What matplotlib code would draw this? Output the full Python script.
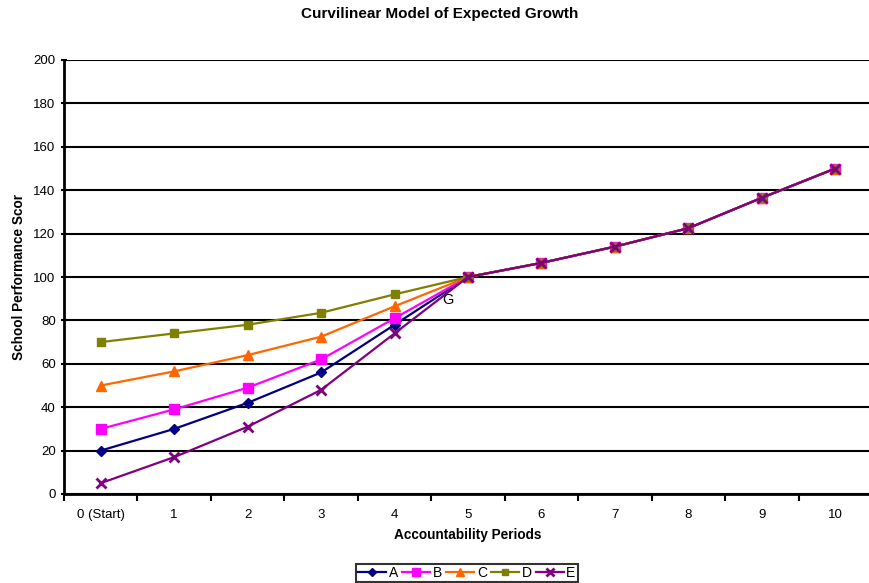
import numpy as np
import matplotlib.pyplot as plt

plt.rcParams['font.family'] = ['Liberation Sans', 'DejaVu Sans']

periods = ['0 (Start)', '1', '2', '3', '4', '5', '6', '7', '8', '9', '10']
tail = [106.5, 114, 122.5, 136.5, 150]
series_a = [20, 30, 42, 56, 78, 100] + tail
series_b = [30, 39, 49, 62, 81, 100] + tail
series_c = [50, 56.5, 64, 72.5, 86.5, 100] + tail
series_d = [70, 74, 78, 83.5, 92, 100] + tail
series_e = [5, 17, 31, 48, 74, 100] + tail

x = np.arange(len(periods))

fig = plt.figure(figsize=(8.69, 5.83), dpi=100)
ax = fig.add_axes([64 / 869, 1 - 494 / 583, 808 / 869, 434 / 583])

ax.plot(x, series_a, color='#000080', marker='D', ms=5, lw=1.6, label='A')
ax.plot(x, series_b, color='#FF00FF', marker='s', ms=7.5, lw=1.6, label='B')
ax.plot(x, series_c, color='#FF6600', marker='^', ms=7, lw=1.6, label='C')
ax.plot(x, series_d, color='#808000', marker='s', ms=6, lw=1.6, label='D')
ax.plot(x, series_e, color='#800080', marker='x', ms=7, mew=2, lw=1.6, label='E')

ax.text(4.73, 89.5, 'G', fontsize=10.5, ha='center', va='center', zorder=5)

ax.set_xlim(-0.5, 10.5)
ax.set_ylim(0, 200)
ax.set_yticks(range(0, 201, 20))
ax.set_xticks(x)
ax.set_xticklabels(periods, fontsize=9.5)
ax.set_xticks(np.arange(-0.5, 10.6, 1), minor=True)
ax.tick_params(axis='x', which='major', length=0, pad=11)
ax.tick_params(axis='x', which='minor', length=5, width=1.5, direction='out')
ax.tick_params(axis='y', labelsize=9.5, length=5, width=1.5, direction='inout')
ax.yaxis.grid(True, color='black', lw=1.5)
ax.set_axisbelow(True)
for s in ['top', 'right']:
    ax.spines[s].set_visible(False)
ax.spines['left'].set_linewidth(2)
ax.spines['bottom'].set_linewidth(2)

ax.set_xlabel('Accountability Periods', fontsize=9.8, fontweight='bold', labelpad=5)
ax.set_ylabel('School Performance Scor', fontsize=9.8, fontweight='bold', labelpad=5)
fig.suptitle('Curvilinear Model of Expected Growth', fontsize=11, fontweight='bold',
             x=440 / 869, y=1 - 14 / 583, va='center')

leg = fig.legend(loc='center', bbox_to_anchor=(467 / 869, 1 - 573 / 583), ncol=5,
                 fontsize=10, frameon=True, fancybox=False, edgecolor='black',
                 handlelength=2.0, handletextpad=0.2, columnspacing=0.3,
                 borderpad=0.15, markerscale=0.8)
leg.get_frame().set_linewidth(1.5)

fig.savefig('out.png', dpi=100)
